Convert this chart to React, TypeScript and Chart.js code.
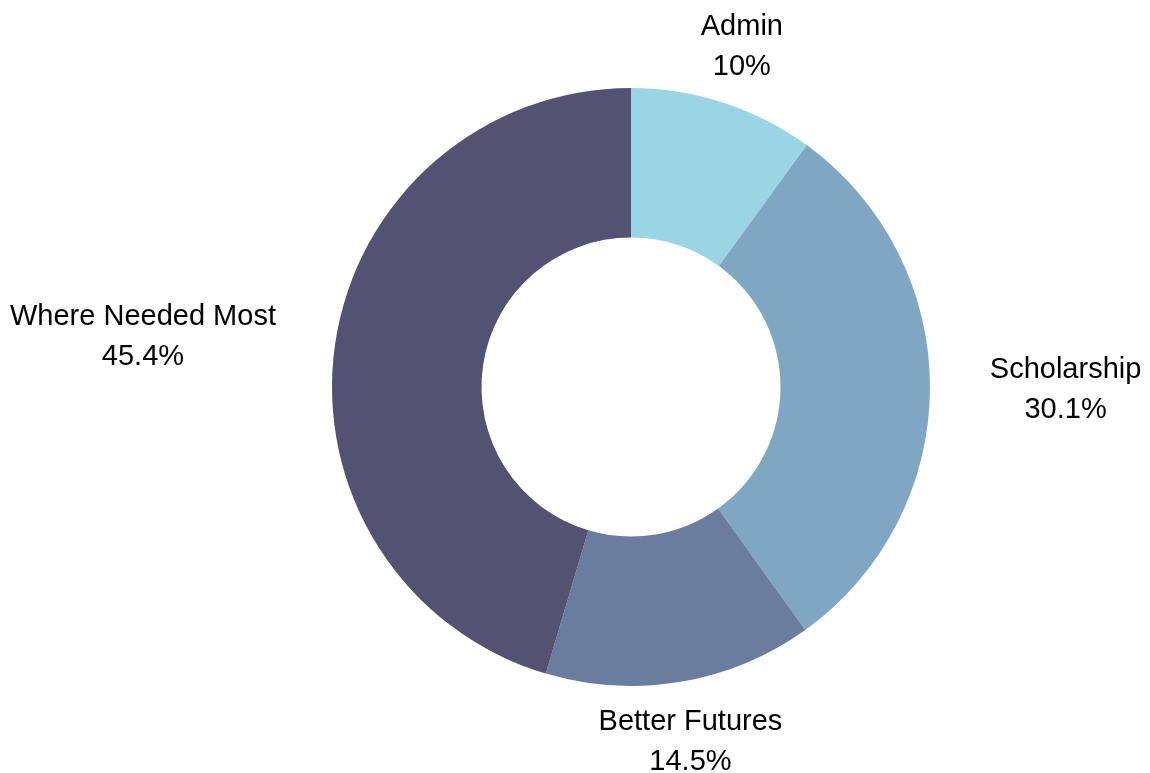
import React, { useEffect, useRef } from "react";
import { Chart, registerables } from "chart.js";

Chart.register(...registerables);

const categories: string[] = ["Admin", "Scholarship", "Better Futures", "Where Needed Most"];
const values: number[] = [10, 30.1, 14.5, 45.4];
const valueLabels: string[] = ["10%", "30.1%", "14.5%", "45.4%"];
const colors: string[] = ["#9BD4E4", "#7FA7C4", "#6A7D9E", "#545273"];

const FONT = "29px 'Liberation Sans', Arial, sans-serif";
const LINE_H = 40;

const outsideLabels = {
  id: "outsideLabels",
  afterDatasetsDraw(chart: any) {
    const ctx = chart.ctx;
    const meta = chart.getDatasetMeta(0);
    ctx.save();
    ctx.font = FONT;
    ctx.fillStyle = "#000000";
    ctx.textBaseline = "middle";
    meta.data.forEach((arc: any, i: number) => {
      const { x, y, startAngle, endAngle, outerRadius } = arc.getProps(
        ["x", "y", "startAngle", "endAngle", "outerRadius"],
        true
      );
      const mid = (startAngle + endAngle) / 2;
      const r = outerRadius * 1.2;
      const dx = Math.cos(mid);
      const dy = Math.sin(mid);
      const px = x + dx * r;
      const py = y + dy * r + 1.5;
      const lines = [categories[i], valueLabels[i]];
      const w = Math.max(...lines.map((l) => ctx.measureText(l).width));
      let cx = px;
      if (dx > 0.6) cx = px + w / 2;
      else if (dx < -0.6) cx = px - w / 2;
      ctx.textAlign = "center";
      lines.forEach((l, k) => {
        ctx.fillText(l, cx, py + (k - (lines.length - 1) / 2) * LINE_H);
      });
    });
    ctx.restore();
  },
};

export default function App() {
  const ref = useRef<HTMLCanvasElement | null>(null);
  useEffect(() => {
    if (!ref.current) return;
    const chart = new Chart(ref.current, {
      type: "doughnut",
      data: {
        labels: categories,
        datasets: [
          {
            data: values,
            backgroundColor: colors,
            borderWidth: 0,
          },
        ],
      },
      options: {
        animation: false,
        responsive: true,
        maintainAspectRatio: false,
        cutout: "50%",
        layout: { padding: { top: 88, bottom: 87, left: 332, right: 220 } },
        plugins: {
          legend: { display: false },
          tooltip: { enabled: false },
        },
      },
      plugins: [outsideLabels],
    });
    return () => chart.destroy();
  }, []);
  return (
    <div style={{ position: "fixed", left: 0, top: 0, width: 1150, height: 773, background: "#ffffff" }}>
      <canvas ref={ref} />
    </div>
  );
}
